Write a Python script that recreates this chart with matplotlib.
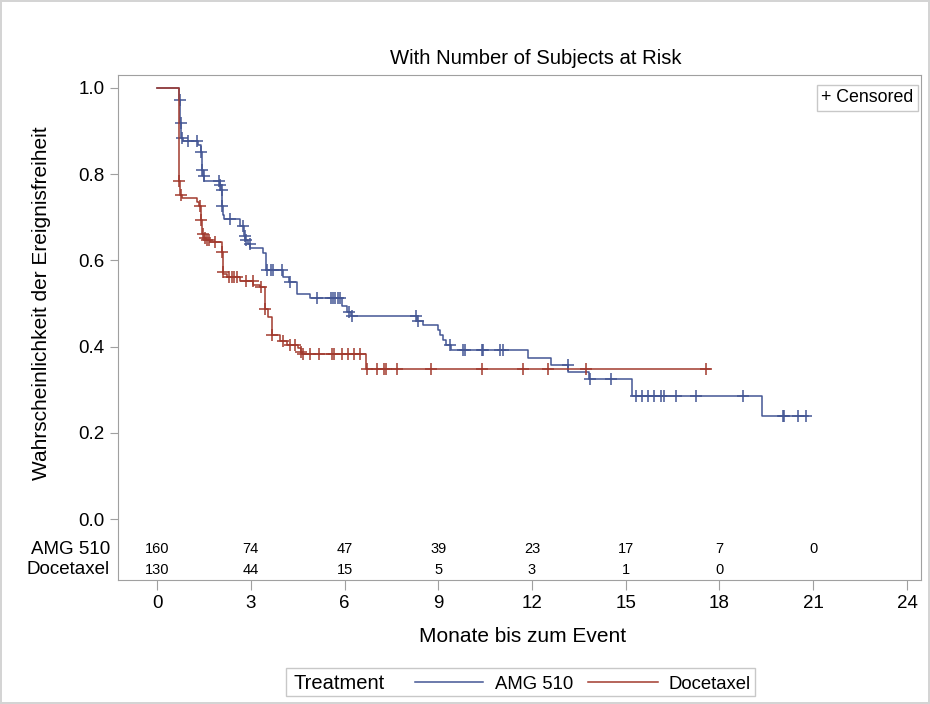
import numpy as np
import matplotlib
matplotlib.use("Agg")
import matplotlib.pyplot as plt
from matplotlib.lines import Line2D
from matplotlib.patches import Rectangle
import matplotlib.transforms as mtransforms

plt.rcParams['font.family'] = ['Liberation Sans', 'DejaVu Sans']

# KM curves: time of each drop, survival after the drop
amg_t = [0.70, 0.74, 0.78, 0.84, 1.31, 1.40, 1.43, 1.47, 1.50, 2.00, 2.05, 2.08, 2.11, 2.15,
         2.66, 2.78, 2.83, 2.90, 2.98, 3.40, 3.49, 4.03, 4.23, 4.47, 4.90, 5.91, 6.07, 6.20,
         8.33, 8.52, 9.00, 9.06, 9.16, 9.25, 9.40, 11.86, 12.60, 13.16, 13.83, 15.21, 19.35]
amg_s = [0.972, 0.919, 0.883, 0.877, 0.868, 0.852, 0.810, 0.795, 0.785, 0.775, 0.763, 0.725, 0.705, 0.695,
         0.680, 0.657, 0.648, 0.638, 0.629, 0.617, 0.578, 0.562, 0.550, 0.522, 0.513, 0.493, 0.481, 0.471,
         0.460, 0.450, 0.439, 0.427, 0.415, 0.404, 0.392, 0.374, 0.357, 0.342, 0.325, 0.286, 0.239]
amg_cens = [0.72, 0.76, 0.81, 0.99, 1.28, 1.41, 1.44, 1.49, 1.98, 2.02, 2.07, 2.09, 2.34, 2.76, 2.80,
            2.86, 2.96, 3.52, 3.64, 3.72, 4.01, 4.26, 5.12, 5.56, 5.63, 5.70, 5.78, 5.86, 6.14, 6.23,
            8.28, 8.36, 9.36, 9.78, 9.86, 10.39, 10.42, 10.98, 11.06, 13.14, 13.85, 14.53, 15.33,
            15.53, 15.71, 15.90, 16.14, 16.23, 16.60, 17.25, 18.74, 20.02, 20.05, 20.51, 20.76]
amg_end = 20.84

doc_t = [0.70, 0.73, 0.80, 1.27, 1.35, 1.41, 1.45, 1.50, 1.56, 1.70, 2.07, 2.10, 2.12, 2.25, 2.66,
         3.08, 3.30, 3.46, 3.56, 3.67, 3.92, 4.15, 4.50, 4.60, 4.64, 6.69]
doc_s = [0.784, 0.752, 0.745, 0.736, 0.726, 0.694, 0.662, 0.652, 0.647, 0.643, 0.620, 0.572, 0.568,
         0.562, 0.551, 0.543, 0.538, 0.487, 0.469, 0.427, 0.414, 0.404, 0.396, 0.388, 0.383, 0.349]
doc_cens = [0.71, 0.78, 1.36, 1.42, 1.47, 1.54, 1.61, 1.67, 1.86, 2.08, 2.11, 2.31, 2.39, 2.46, 2.57,
            2.85, 3.06, 3.32, 3.47, 3.68, 4.04, 4.26, 4.42, 4.62, 4.68, 4.90, 5.19, 5.59, 5.66, 5.91,
            6.12, 6.30, 6.50, 6.72, 7.03, 7.27, 7.33, 7.67, 8.77, 10.39, 11.72, 12.52, 13.73, 17.56]
doc_end = 17.70

# numbers at risk
risk_times = [0, 3, 6, 9, 12, 15, 18, 21]
amg_risk = [160, 74, 47, 39, 23, 17, 7, 0]
doc_risk = [130, 44, 15, 5, 3, 1, 0]

BLUE = '#445694'
RED = '#A23A2E'
GRAY = '#a0a0a0'


def km_arrays(t, s, end):
    x = np.concatenate([[0.0], t, [end]])
    y = np.concatenate([[1.0], s, [s[-1]]])
    return x, y


def surv_at(times, t, s):
    idx = np.searchsorted(np.asarray(t), np.asarray(times), side='right')
    full = np.concatenate([[1.0], s])
    return full[idx]


fig = plt.figure(figsize=(9.3, 7.04), dpi=100)
fig.patch.set_edgecolor('#d4d4d4')
fig.patch.set_linewidth(1.5)
ax = fig.add_axes([118 / 930, 1 - 580 / 704, (921 - 118) / 930, (580 - 75) / 704])

for t, s, end, cens, col in [(amg_t, amg_s, amg_end, amg_cens, BLUE),
                             (doc_t, doc_s, doc_end, doc_cens, RED)]:
    x, y = km_arrays(t, s, end)
    ax.step(x, y, where='post', color=col, lw=1.1)
    ax.plot(cens, surv_at(cens, t, s), linestyle='None', marker='+',
            color=col, markersize=9, markeredgewidth=1.1)

ax.set_xlim(-1.25, 24.45)
ax.set_ylim(-0.1415, 1.03)
ax.set_xticks(np.arange(0, 25, 3))
ax.set_yticks(np.arange(0, 1.01, 0.2))
ax.set_yticklabels([f'{v:.1f}' for v in np.arange(0, 1.01, 0.2)])
ax.tick_params(axis='both', direction='out', colors=GRAY, labelcolor='black', labelsize=13.5)
ax.tick_params(axis='x', length=7, pad=4)
ax.tick_params(axis='y', length=5.5, pad=4)
for sp in ax.spines.values():
    sp.set_color(GRAY)

# at-risk table inside the plot area
trans = mtransforms.blended_transform_factory(ax.transAxes, ax.transData)
for rows, yv, name in [(amg_risk, -0.0696, 'AMG 510'), (doc_risk, -0.118, 'Docetaxel')]:
    for tt, n in zip(risk_times, rows):
        ax.text(tt, yv, str(n), ha='center', va='center', fontsize=10.5)
    ax.text(-0.01, yv, name, transform=trans, ha='right', va='center', fontsize=13.5)

ax.text((913.5 - 118) / 803, (580 - 89.5) / 505, '+ Censored', transform=ax.transAxes,
        ha='right', va='top', fontsize=12.8,
        bbox=dict(boxstyle='square,pad=0.25', fc='white', ec='#c8c8c8', lw=1))

fig.text(536 / 930, 1 - 58 / 704, 'With Number of Subjects at Risk', ha='center', va='center',
         fontsize=14.6)
fig.text(42 / 930, 1 - 303 / 704, 'Wahrscheinlichkeit der Ereignisfreiheit', rotation=90,
         ha='center', va='center', fontsize=15)
fig.text(523 / 930, 1 - 637 / 704, 'Monate bis zum Event', ha='center', va='center', fontsize=15)

# bottom legend
fig.patches.append(Rectangle((286 / 930, 1 - 696 / 704), 469 / 930, 28 / 704,
                             transform=fig.transFigure, fc='white', ec='#c8c8c8', lw=1))
ly = 1 - 682 / 704
lb = 1 - 689 / 704
fig.text(293 / 930, lb, 'Treatment', ha='left', va='baseline', fontsize=14.5)
fig.lines.append(Line2D([415 / 930, 483 / 930], [ly, ly], transform=fig.transFigure,
                        color=BLUE, lw=1.1))
fig.text(495 / 930, lb, 'AMG 510', ha='left', va='baseline', fontsize=13.3)
fig.lines.append(Line2D([588 / 930, 658 / 930], [ly, ly], transform=fig.transFigure,
                        color=RED, lw=1.1))
fig.text(668 / 930, lb, 'Docetaxel', ha='left', va='baseline', fontsize=13.3)

fig.savefig('out.png', dpi=100)
